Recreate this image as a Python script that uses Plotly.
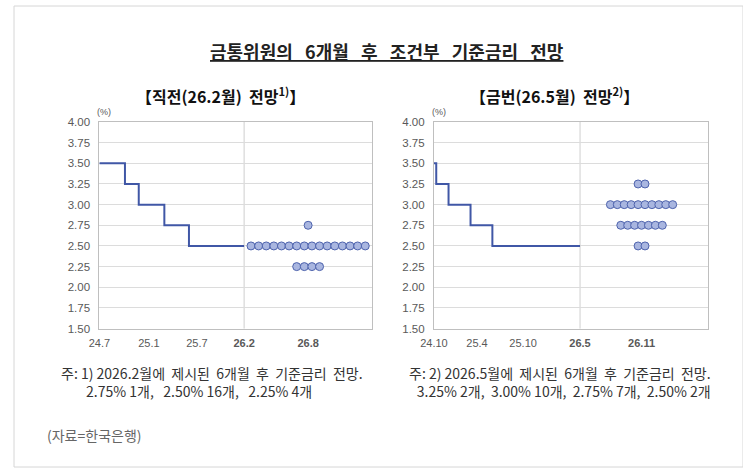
import plotly.graph_objects as go

# ---------------- data ----------------
y_ticks = [1.50, 1.75, 2.00, 2.25, 2.50, 2.75, 3.00, 3.25, 3.50, 3.75, 4.00]

# Left panel: previous (26.2) projection. x in month-like units from panel start
left_step_x = [0, 3.36, 5.17, 8.53, 11.76, 19.0]
left_step_rate = [3.50, 3.25, 3.00, 2.75, 2.50, 2.50]
left_tickvals = [0, 6.5, 12.8, 19.0, 27.4]
left_ticktext = ["24.7", "25.1", "25.7", "<b>26.2</b>", "<b>26.8</b>"]
left_divider = 19.0
left_dot_rates = [2.75, 2.50, 2.25]
left_dot_counts = [1, 16, 4]
left_dot_center = 27.4
left_xmax = 35.8

# Right panel: current (26.5) projection
right_step_x = [0, 0.3, 1.9, 4.76, 7.6, 19.0]
right_step_rate = [3.50, 3.25, 3.00, 2.75, 2.50, 2.50]
right_tickvals = [0, 5.6, 11.6, 19.0, 27.0]
right_ticktext = ["24.10", "25.4", "25.10", "<b>26.5</b>", "<b>26.11</b>"]
right_divider = 19.0
right_dot_rates = [3.25, 3.00, 2.75, 2.50]
right_dot_counts = [2, 10, 7, 2]
right_dot_center = 27.0
right_xmax = 35.6

# ---------------- style ----------------
W, H = 743, 473
LINE_C = "#4057a6"
DOT_FILL = "#a9b6e0"
DOT_EDGE = "#4e63ad"
GRID_C = "#dcdcdc"
AX_C = "#bfbfbf"
TICK_C = "#595959"
KFONT = "Noto Sans CJK KR"
NFONT = "Liberation Sans"


def px_x(p):
    return p / W


def px_y(p):
    return 1 - p / H


def dots(rates, counts, center, spacing):
    xs, ys = [], []
    for r, n in zip(rates, counts):
        for i in range(n):
            xs.append(center + (i - (n - 1) / 2) * spacing)
            ys.append(r)
    return xs, ys


fig = go.Figure()

panels = [
    dict(xa="x", ya="y", sx=left_step_x, sr=left_step_rate,
         dr=left_dot_rates, dc=left_dot_counts, cen=left_dot_center, sp=1.0),
    dict(xa="x2", ya="y2", sx=right_step_x, sr=right_step_rate,
         dr=right_dot_rates, dc=right_dot_counts, cen=right_dot_center, sp=0.9),
]
for p in panels:
    fig.add_trace(go.Scatter(x=p["sx"], y=p["sr"], mode="lines",
                             line=dict(color=LINE_C, width=2, shape="hv"),
                             xaxis=p["xa"], yaxis=p["ya"], showlegend=False,
                             hoverinfo="skip"))
    dx, dy = dots(p["dr"], p["dc"], p["cen"], p["sp"])
    fig.add_trace(go.Scatter(x=dx, y=dy, mode="markers",
                             marker=dict(size=8, color=DOT_FILL,
                                         line=dict(color=DOT_EDGE, width=1)),
                             xaxis=p["xa"], yaxis=p["ya"], showlegend=False,
                             hoverinfo="skip"))

y_top, y_bot = px_y(119), px_y(331)

common_y = dict(range=[1.5, 4.0], tickvals=y_ticks,
                ticktext=[f"{v:.2f}" for v in y_ticks],
                showgrid=True, gridcolor=GRID_C, gridwidth=1,
                showline=True, linecolor=AX_C, linewidth=1, mirror=True,
                zeroline=False, ticks="", ticklabelstandoff=6,
                tickfont=dict(family=NFONT, size=11.5, color=TICK_C),
                fixedrange=True)
common_x = dict(showgrid=False, showline=True, linecolor=AX_C, linewidth=1,
                mirror=True, zeroline=False, ticks="", ticklabelstandoff=4,
                tickfont=dict(family=NFONT, size=11, color=TICK_C),
                fixedrange=True)

fig.update_layout(
    width=W, height=H, margin=dict(l=0, r=0, t=0, b=0),
    paper_bgcolor="white", plot_bgcolor="white",
    xaxis=dict(common_x, domain=[px_x(87), px_x(365)], range=[0, left_xmax],
               tickvals=left_tickvals, ticktext=left_ticktext, anchor="y"),
    yaxis=dict(common_y, domain=[y_bot, y_top], anchor="x"),
    xaxis2=dict(common_x, domain=[px_x(428), px_x(707)], range=[0, right_xmax],
                tickvals=right_tickvals, ticktext=right_ticktext, anchor="y2"),
    yaxis2=dict(common_y, domain=[y_bot, y_top], anchor="x2"),
)

# vertical divider lines at the projection date
for xa, ya, xv in [("x", "y", left_divider), ("x2", "y2", right_divider)]:
    fig.add_shape(type="line", xref=xa, yref=ya + " domain", x0=xv, x1=xv,
                  y0=0, y1=1, line=dict(color="#cfcfcf", width=1), layer="below")

# outer border
fig.add_shape(type="rect", xref="paper", yref="paper", x0=0, x1=1, y0=0, y1=1,
              line=dict(color="#d6d6d6", width=1))

n = "\u00a0"
s2 = n * 2
s3 = n * 3
indent = n * 8
ann = [
    dict(text=f"<u><b>금통위원의{s3}6개월{s3}후{s3}조건부{s3}기준금리{s3}전망</b></u>",
         x=px_x(380), y=px_y(46), size=18, color="#222222", xanchor="center"),
    dict(text=f"<b>【직전(26.2월){s2}전망<sup>1)</sup>】</b>",
         x=px_x(210), y=px_y(92), size=16, color="#111111", xanchor="center"),
    dict(text=f"<b>【금번(26.5월){s2}전망<sup>2)</sup>】</b>",
         x=px_x(551), y=px_y(92), size=16, color="#111111", xanchor="center"),
    dict(text="(%)", x=px_x(92), y=px_y(109), size=9, color=TICK_C,
         xanchor="center", family=NFONT),
    dict(text="(%)", x=px_x(433), y=px_y(109), size=9, color=TICK_C,
         xanchor="center", family=NFONT),
    dict(text=f"주: 1) 2026.2월에{s2}제시된{s2}6개월{s2}후{s2}기준금리{s2}전망.<br>"
              + indent + f"2.75% 1개,{s3}2.50% 16개,{s3}2.25% 4개",
         x=px_x(46), y=px_y(386), size=14, color="#333333", xanchor="left",
         align="left"),
    dict(text=f"주: 2) 2026.5월에{s2}제시된{s2}6개월{s2}후{s2}기준금리{s2}전망.<br>"
              f"3.25% 2개,{s2}3.00% 10개,{s2}2.75% 7개,{s2}2.50% 2개",
         x=px_x(712), y=px_y(386), size=14, color="#333333", xanchor="right",
         align="right"),
    dict(text="(자료=한국은행)", x=px_x(32), y=px_y(440), size=14,
         color="#666666", xanchor="left"),
]
for a in ann:
    fig.add_annotation(text=a["text"], x=a["x"], y=a["y"], xref="paper",
                       yref="paper", xanchor=a["xanchor"], yanchor="middle",
                       align=a.get("align", "center"), showarrow=False,
                       font=dict(family=a.get("family", KFONT), size=a["size"],
                                 color=a["color"]))

fig.write_html("out.html")
